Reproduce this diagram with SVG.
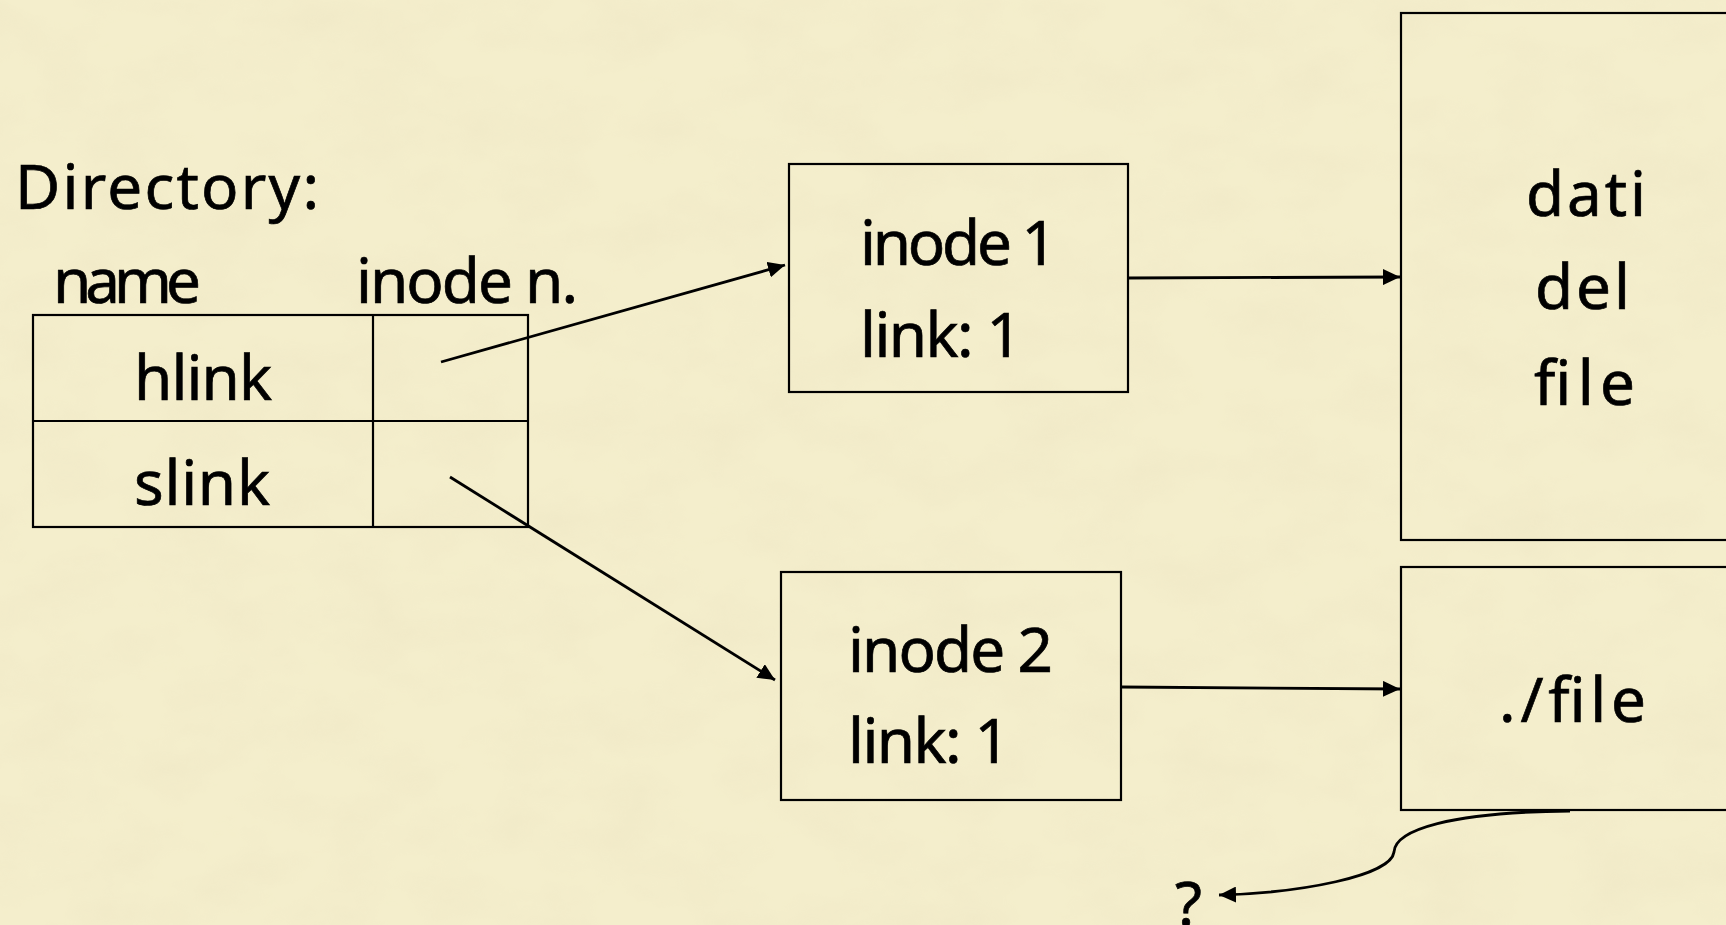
<svg xmlns="http://www.w3.org/2000/svg" width="1726" height="925" viewBox="0 0 1726 925">
<defs>
<style>
.t{font-family:"Comic Sans MS","Noto Sans",sans-serif;font-size:62px;fill:#000;stroke:#000;stroke-width:0.7}
.box{fill:none;stroke:#000;stroke-width:2.2}
.con{fill:none;stroke:#000;stroke-width:2.8}
</style>
<filter id="paper" x="0" y="0" width="100%" height="100%">
<feTurbulence type="fractalNoise" baseFrequency="0.012 0.02" numOctaves="4" seed="7" result="n"/>
<feColorMatrix in="n" type="matrix" values="0 0 0 0 0.80  0 0 0 0 0.72  0 0 0 0 0.50  0 0 0 -1.2 0.75" result="c"/>
<feComposite in="c" in2="SourceGraphic" operator="in"/>
</filter>
<marker id="arr" markerUnits="userSpaceOnUse" markerWidth="18" markerHeight="16" refX="17" refY="8" orient="auto">
<path d="M0,0 L17,8 L0,16 z" fill="#000"/>
</marker>
</defs>
<rect x="0" y="0" width="1726" height="925" fill="#f4eecc"/>
<rect x="0" y="0" width="1726" height="925" fill="#f4eecc" filter="url(#paper)" opacity="0.35"/>

<g id="labels">
<text class="t" x="15" y="209" textLength="304">Directory:</text>
<text class="t" x="53" y="303" textLength="148">name</text>
<text class="t" x="356" y="303" textLength="222">inode n.</text>
</g>

<g id="directory">
<rect class="box" x="33" y="315" width="495" height="212"/>
<line class="box" x1="373" y1="315" x2="373" y2="527"/>
<line class="box" x1="33" y1="421" x2="528" y2="421"/>
<text class="t" x="134" y="400" textLength="138">hlink</text>
<text class="t" x="134" y="505" textLength="136">slink</text>
</g>

<g id="inode1">
<rect class="box" x="789" y="164" width="339" height="228"/>
<text class="t" x="860" y="265" textLength="197">inode 1</text>
<text class="t" x="860" y="357" textLength="162">link: 1</text>
</g>

<g id="data">
<rect class="box" x="1401" y="13" width="400" height="527"/>
<text class="t" x="1526" y="216" textLength="120">dati</text>
<text class="t" x="1535" y="309" textLength="95">del</text>
<text class="t" x="1534" y="405" textLength="101">file</text>
</g>

<g id="inode2">
<rect class="box" x="781" y="572" width="340" height="228"/>
<text class="t" x="848" y="672" textLength="205">inode 2</text>
<text class="t" x="848" y="763" textLength="162">link: 1</text>
</g>

<g id="symlinkdata">
<rect class="box" x="1401" y="567" width="400" height="243"/>
<text class="t" x="1499" y="722" textLength="147">./file</text>
</g>

<g id="unknown">
<text class="t" x="1175" y="926">?</text>
</g>

<g id="connectors">
<line class="con" x1="441" y1="362" x2="785" y2="265" marker-end="url(#arr)"/>
<line class="con" x1="450" y1="477" x2="775" y2="680" marker-end="url(#arr)"/>
<line class="con" x1="1128" y1="278" x2="1400" y2="277" marker-end="url(#arr)"/>
<line class="con" x1="1121" y1="687" x2="1400" y2="689" marker-end="url(#arr)"/>
<path class="con" d="M1570,811 C1450,812 1395,830 1394,852 C1391,876 1300,893 1219,895" marker-end="url(#arr)"/>
</g>
</svg>
